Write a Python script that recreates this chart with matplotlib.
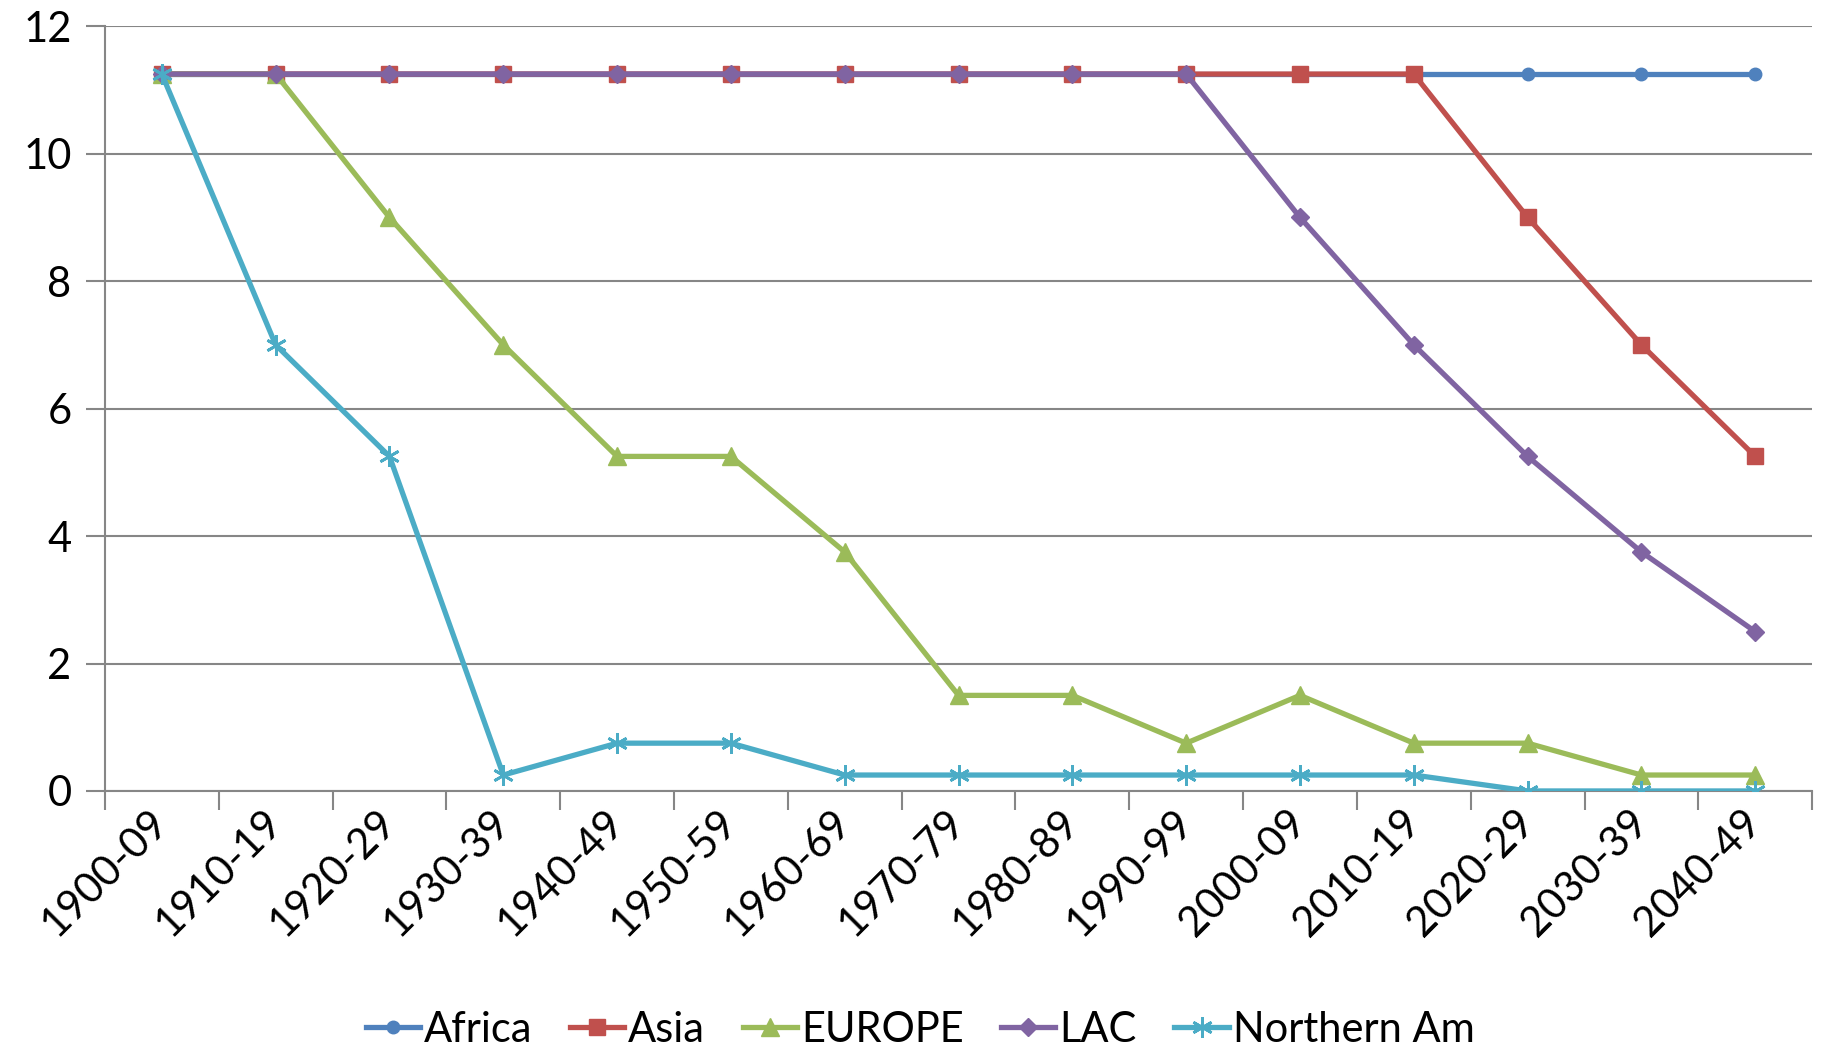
import matplotlib
matplotlib.use("Agg")
import matplotlib.pyplot as plt
import numpy as np

periods = ["1900-09", "1910-19", "1920-29", "1930-39", "1940-49", "1950-59",
           "1960-69", "1970-79", "1980-89", "1990-99", "2000-09", "2010-19",
           "2020-29", "2030-39", "2040-49"]

africa = [11.25] * 15
asia = [11.25, 11.25, 11.25, 11.25, 11.25, 11.25, 11.25, 11.25, 11.25, 11.25,
        11.25, 11.25, 9, 7, 5.25]
europe = [11.25, 11.25, 9, 7, 5.25, 5.25, 3.75, 1.5, 1.5, 0.75, 1.5, 0.75,
          0.75, 0.25, 0.25]
lac = [11.25, 11.25, 11.25, 11.25, 11.25, 11.25, 11.25, 11.25, 11.25, 11.25,
       9, 7, 5.25, 3.75, 2.5]
northern_am = [11.25, 7, 5.25, 0.25, 0.75, 0.75, 0.25, 0.25, 0.25, 0.25,
               0.25, 0.25, 0, 0, 0]

series = [
    ("Africa", africa, "#4F81BD", "o", 9),
    ("Asia", asia, "#C0504D", "s", 11),
    ("EUROPE", europe, "#9BBB59", "^", 13),
    ("LAC", lac, "#8064A2", "D", 9),
    ("Northern Am", northern_am, "#4BACC6", (6, 2, 0), 15),
]

plt.rcParams["font.family"] = ["Lato", "DejaVu Sans"]
FS = 30

fig = plt.figure(figsize=(18.22, 10.5), dpi=100)
ax = fig.add_axes([0.0576, 0.2467, 0.937, 0.7283])

x = np.arange(len(periods))
for name, vals, color, marker, ms in series:
    if isinstance(marker, tuple):
        kw = dict(markeredgecolor=color, markeredgewidth=2.0, markerfacecolor="none")
    else:
        kw = dict(markeredgecolor=color, markerfacecolor=color)
    ax.plot(x, vals, color=color, linewidth=3.8, marker=marker, markersize=ms,
            label=name, solid_joinstyle="round", zorder=3, **kw)

ax.set_xlim(-0.5, len(periods) - 0.5)
ax.set_ylim(0, 12)
ax.set_yticks(np.arange(0, 13, 2))
ax.set_yticklabels([str(v) for v in range(0, 13, 2)], fontsize=FS)

ax.set_xticks(x)
ax.set_xticklabels(periods, rotation=45, ha="right", va="center",
                   rotation_mode="anchor", fontsize=FS)
ax.set_xticks(np.arange(-0.5, len(periods), 1), minor=True)
ax.tick_params(axis="x", which="major", length=0, pad=18)
ax.tick_params(axis="x", which="minor", length=14, width=1.5, color="#868686")
ax.tick_params(axis="y", length=14, width=1.5, color="#868686", pad=10)

ax.grid(axis="y", color="#868686", linewidth=1.5, zorder=0)
for side in ["top", "right"]:
    ax.spines[side].set_visible(False)
for side in ["left", "bottom"]:
    ax.spines[side].set_color("#868686")
    ax.spines[side].set_linewidth(1.5)

fig.legend(loc="center", bbox_to_anchor=(0.505, 0.019), ncol=5, frameon=False,
           fontsize=FS, handlelength=1.3, handletextpad=0.1, columnspacing=0.9)

fig.savefig("out.png", dpi=100, facecolor="white")
